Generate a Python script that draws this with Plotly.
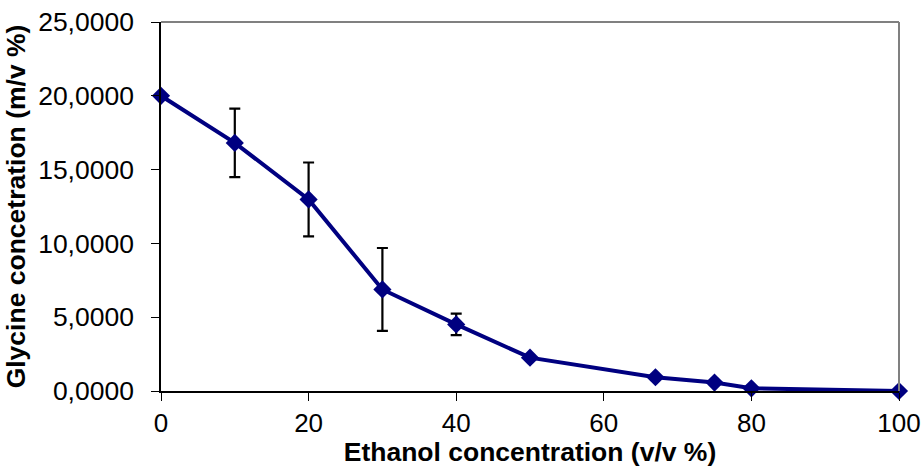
import plotly.graph_objects as go

ethanol = [0, 10, 20, 30, 40, 50, 67, 75, 80, 100]
glycine = [20.0, 16.81, 12.98, 6.88, 4.51, 2.26, 0.93, 0.57, 0.18, 0.0]
errors = [0, 2.32, 2.5, 2.81, 0.73, 0, 0, 0, 0, 0]

x_ticks = [0, 20, 40, 60, 80, 100]
y_ticks = [0, 5, 10, 15, 20, 25]

fig = go.Figure()
fig.add_trace(go.Scatter(
    x=ethanol, y=glycine, mode="lines+markers",
    line=dict(color="#000080", width=4),
    marker=dict(symbol="diamond", size=14, color="#000080"),
    error_y=dict(type="data", array=errors, visible=True, color="black",
                 thickness=2.2, width=5.5),
    showlegend=False,
    cliponaxis=False,
))

font_family = "Liberation Sans, Arial, sans-serif"
fig.update_layout(
    width=922, height=467,
    margin=dict(l=161, r=23, t=22, b=76),
    paper_bgcolor="white", plot_bgcolor="white",
    separators=", ",
    font=dict(family=font_family, size=26, color="black"),
    xaxis=dict(
        range=[0, 100], tickvals=x_ticks, showgrid=False, zeroline=False,
        showline=True, linecolor="black", linewidth=1.5,
        ticks="outside", ticklen=8, tickcolor="black",
        tickfont=dict(size=26), automargin=False,
        title=dict(text="<b>Ethanol concentration (v/v %)</b>", standoff=16,
                   font=dict(size=26.5)),
    ),
    yaxis=dict(
        range=[0, 25], tickvals=y_ticks, tickformat=".4f", showgrid=False,
        zeroline=False, showline=True, linecolor="black", linewidth=1.5,
        ticks="outside", ticklen=8, tickcolor="black",
        tickfont=dict(size=26.5), automargin=False, ticklabelstandoff=12,
        title=dict(text="<b>Glycine concetration (m/v %)</b>", standoff=5,
                   font=dict(size=26.5)),
    ),
    shapes=[
        dict(type="line", xref="paper", yref="paper", x0=0, x1=1, y0=1, y1=1,
             line=dict(color="#808080", width=2)),
        dict(type="line", xref="paper", yref="paper", x0=1, x1=1, y0=0, y1=1,
             line=dict(color="#808080", width=2)),
    ],
)

fig.write_html("out.html")
